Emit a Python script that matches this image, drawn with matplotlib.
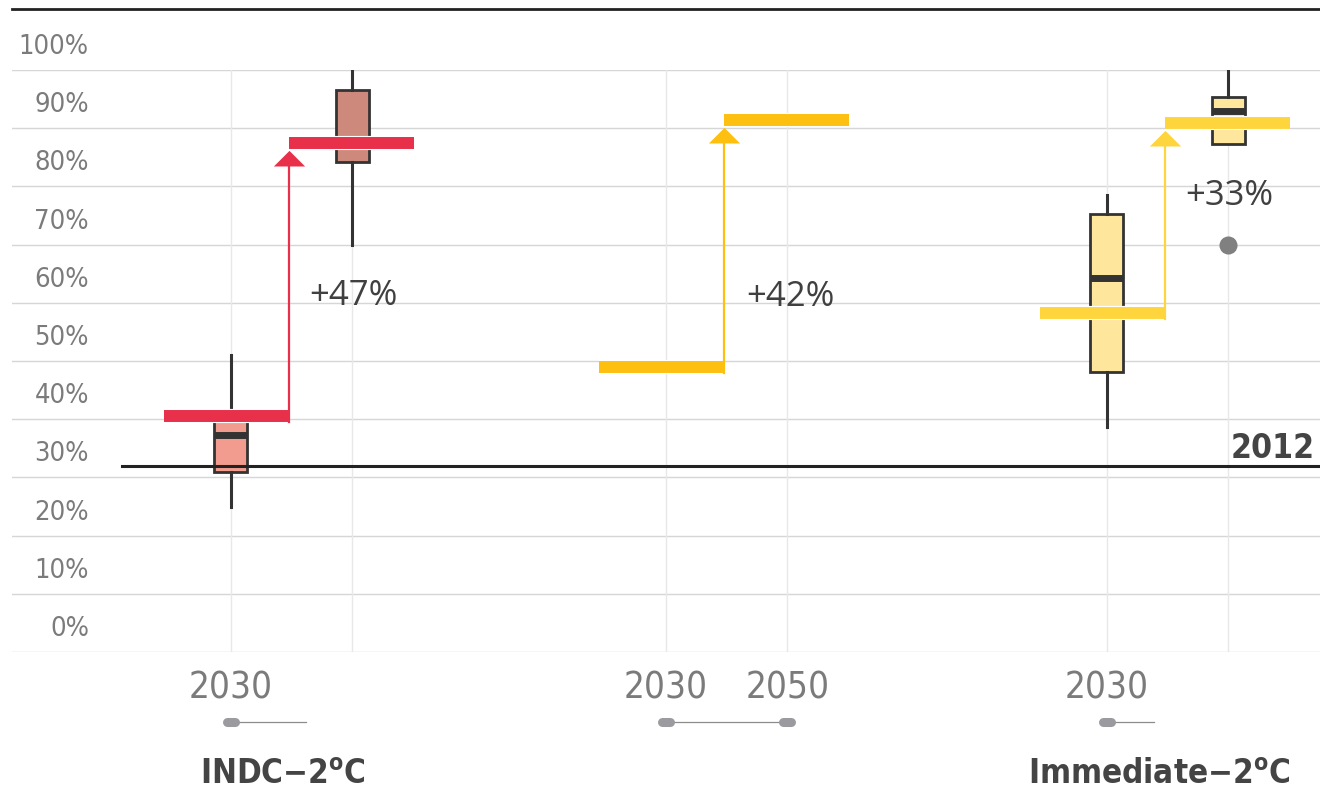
import numpy as np
import matplotlib
matplotlib.use("Agg")
import matplotlib.pyplot as plt
import matplotlib.patheffects as pe
from matplotlib import font_manager as fm
from matplotlib.path import Path

# narrow font if there is one, else plain Arial-like
ttf = fm.fontManager.ttflist
if any(f.name == "Liberation Sans Narrow" for f in ttf):
    FAM, STR = "Liberation Sans Narrow", "normal"
elif any(f.name == "DejaVu Sans" and f.stretch == "condensed" for f in ttf):
    FAM, STR = "DejaVu Sans", "condensed"
else:
    FAM, STR = "Liberation Sans", "normal"
plt.rcParams["font.family"] = [FAM, "DejaVu Sans"]
plt.rcParams["font.stretch"] = STR
plt.rcParams["mathtext.fontset"] = "custom"
plt.rcParams["mathtext.rm"] = f"{FAM}:stretch={STR}"
plt.rcParams["mathtext.bf"] = f"{FAM}:bold:stretch={STR}"

# groups (scenario) and their centre on the x scale
group_names = ["INDC−2$^{\\mathbf{o}}$C", "", "Immediate−2$^{\\mathbf{o}}$C"]
group_x = [0.0, 3.58, 7.21]
year_labels = [["2030", ""], ["2030", "2050"], ["2030", ""]]
timeline_end = [0.12, 4.08, 7.10]

# step arrows 2030 -> 2050
step_from = [40.5, 49.0, 58.2]
step_to = [87.4, 91.4, 90.9]
step_text = ["+47%", "+42%", "+33%"]
step_text_x = [0.51, 4.11, 7.72]
step_text_y = [61.2, 61.0, 78.4]
step_colors = ["#e8304a", "#fdc010", "#ffd53e"]

# box plots (range of models)
box_pos = [-0.5, 0.5, 6.71, 7.71]
box_lo = [25.0, 70.0, 38.7, 87.3]
box_q1 = [31.0, 84.2, 48.1, 87.3]
box_med = [37.3, 87.5, 64.2, 93.0]
box_q3 = [40.0, 96.6, 75.2, 95.4]
box_hi = [51.0, 100.0, 78.5, 100.0]
box_fliers = [[], [], [], [70.0]]
box_fill = ["#f19c8e", "#cd897c", "#ffe69d", "#ffe69d"]

ref_2012 = 32.0
y_ticks = list(range(0, 101, 10))

PX_Y = 5.82   # pixels per y unit
fig = plt.figure(figsize=(13.2, 7.95), dpi=100)
ax = fig.add_axes([12 / 1320, 143 / 795, 1 - 12 / 1320, 582 / 795])
ax.set_xlim(-2.30, 8.465)
ax.set_ylim(0, 100)
ax.axis("off")

ylabels, xlabels, glabels = [], [], []

# grid
for v in y_ticks:
    ax.axhline(v, color="#d6d6d6", lw=1.0, zorder=0)
    ylabels.append(ax.text(-1.667, v + 3.95, f"{v}%", ha="right",
                           va="center", fontsize=22, color="#7b7b7b"))
for g, gx in enumerate(group_x):
    for k, off in enumerate([-0.5, 0.5]):
        ax.plot([gx + off] * 2, [0, 100], color="#e8e8e8", lw=1.0, zorder=0)
        xlabels.append(ax.text(gx + off, -6.2, year_labels[g][k],
                               ha="center", va="center", fontsize=31,
                               color="#7b7b7b", clip_on=False))
    # little timeline under the years
    ax.plot([gx - 0.5, timeline_end[g]], [-12.0] * 2, color="#8c8c8c",
            lw=0.9, clip_on=False)
    pills = [gx - 0.5] + ([gx + 0.5] if year_labels[g][1] else [])
    for p in pills:
        ax.plot([p - 0.033, p + 0.033], [-12.0] * 2, color="#9b9b9f",
                lw=6.5, solid_capstyle="round", clip_on=False)
    glabels.append(ax.text(gx - 0.07, -21.1, group_names[g], ha="center",
                           va="center", fontsize=30, fontweight="bold",
                           color="#444444", clip_on=False))

# top rule
ax.plot([-2.30, 8.465], [110.5, 110.5], color="#222222", lw=2, clip_on=False)

# boxes
stats = []
for i in range(len(box_pos)):
    stats.append(dict(whislo=box_lo[i], q1=box_q1[i], med=box_med[i],
                      q3=box_q3[i], whishi=box_hi[i], fliers=box_fliers[i]))
bp = ax.bxp(stats, positions=box_pos, widths=0.27, patch_artist=True,
            showcaps=False, manage_ticks=False,
            boxprops=dict(edgecolor="#333333", linewidth=2),
            whiskerprops=dict(color="#333333", linewidth=2.2),
            medianprops=dict(color="#333333", linewidth=5),
            flierprops=dict(marker="o", markerfacecolor="#808080",
                            markeredgecolor="none", markersize=13))
for patch, c in zip(bp["boxes"], box_fill):
    patch.set_facecolor(c)
    patch.set_zorder(2)

# 2012 reference line
ax.plot([-1.397, 8.465], [ref_2012, ref_2012], color="#222222", lw=2.2,
        zorder=3)
lab2012 = ax.text(8.42, ref_2012 + 3.0, "2012", ha="right", va="center",
                  fontsize=30, fontweight="bold", color="#444444")

# steps with arrows
half = 6 / PX_Y
head = Path([(-1, 0), (1, 0), (0, 1), (-1, 0)],
            [Path.MOVETO, Path.LINETO, Path.LINETO, Path.CLOSEPOLY])
for g, gx in enumerate(group_x):
    mid = gx - 0.02
    c = step_colors[g]
    stroke = [pe.Stroke(linewidth=10.2, foreground="white"), pe.Normal()]
    ax.plot([mid - 1.03, mid], [step_from[g]] * 2, color=c, lw=8.6,
            solid_capstyle="butt", path_effects=stroke, zorder=4)
    ax.plot([mid, mid + 1.03], [step_to[g]] * 2, color=c, lw=8.6,
            solid_capstyle="butt", path_effects=stroke, zorder=4)
    base = step_to[g] - half - 17 / PX_Y
    ax.plot([mid, mid], [step_from[g] - half, base], color=c, lw=1.6,
            zorder=4)
    ax.plot([mid], [base], marker=head, markersize=22.5, color=c,
            markeredgewidth=0, zorder=4)
    ax.text(step_text_x[g], step_text_y[g], step_text[g], ha="center",
            va="center", fontsize=25, color="#404040", family="Open Sans",
            stretch="normal")

# shrink text to the widths seen in the reference when the font is wider
fig.canvas.draw()
rend = fig.canvas.get_renderer()


def fit(texts, sample, target_px):
    w = sample.get_window_extent(rend).width
    size = min(sample.get_fontsize(), sample.get_fontsize() * target_px / w)
    for t in texts:
        t.set_fontsize(size)


fit(ylabels, ylabels[-1], 70)
fit(xlabels, xlabels[0], 84)
fit([lab2012], lab2012, 84)
fit(glabels, glabels[2], 262)

fig.savefig("out.png", dpi=100)
